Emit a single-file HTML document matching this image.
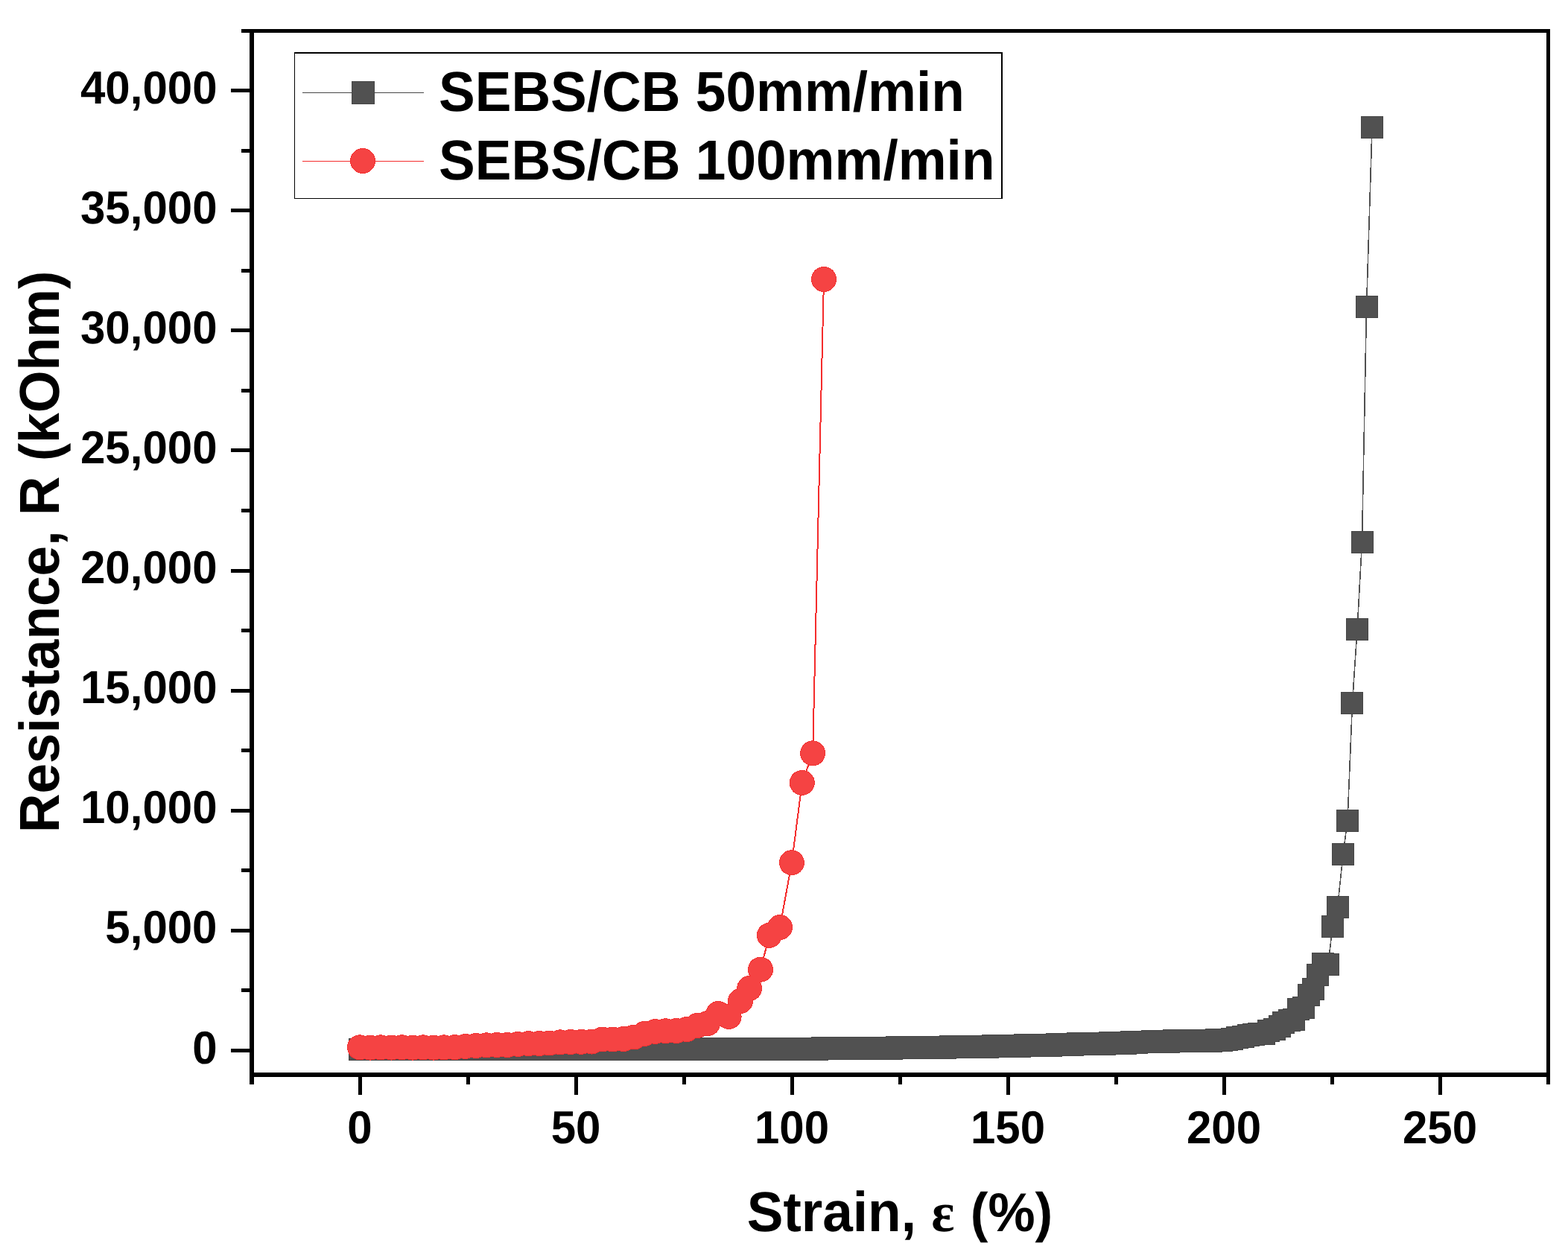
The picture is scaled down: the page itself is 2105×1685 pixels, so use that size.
<!DOCTYPE html>
<html><head><meta charset="utf-8"><title>Resistance vs Strain</title>
<style>html,body{margin:0;padding:0;background:#fff;}svg{display:block;}text{font-family:'Liberation Sans', Arial, sans-serif;font-weight:bold;fill:#000;text-rendering:geometricPrecision;}</style>
</head><body>
<svg width="2105" height="1685" viewBox="0 0 2105 1685">
<rect x="0" y="0" width="2105" height="1685" fill="#fff"/>
<polyline points="483.0,1409.0 490.1,1408.0 497.3,1409.0 504.4,1408.0 511.6,1409.0 518.7,1408.0 525.9,1409.0 533.0,1408.0 540.1,1409.0 547.3,1408.0 554.4,1409.0 561.6,1408.0 568.7,1409.0 575.8,1408.0 583.0,1409.0 590.1,1408.0 597.3,1409.0 604.4,1408.0 611.6,1409.0 618.7,1408.0 625.8,1409.0 633.0,1408.0 640.1,1409.0 647.3,1408.0 654.4,1409.0 661.6,1408.0 668.7,1409.0 675.8,1408.0 683.0,1409.0 690.1,1408.0 697.3,1409.0 704.4,1408.0 711.5,1409.0 718.7,1408.0 725.8,1409.0 733.0,1408.0 740.1,1409.0 747.3,1408.0 754.4,1409.0 761.5,1408.0 768.7,1409.0 775.8,1408.0 783.0,1409.0 790.1,1408.0 797.2,1409.0 804.4,1408.0 811.5,1409.0 818.7,1408.0 825.8,1409.0 833.0,1408.0 840.1,1409.0 847.2,1408.0 854.4,1409.0 861.5,1408.0 868.7,1409.0 875.8,1408.0 883.0,1409.0 890.1,1408.0 897.2,1409.0 904.4,1407.9 911.5,1409.0 918.7,1407.9 925.8,1409.0 932.9,1407.9 940.1,1409.0 947.2,1407.9 954.4,1409.0 961.5,1407.9 968.7,1409.0 975.8,1407.9 982.9,1408.9 990.1,1407.8 997.2,1408.9 1004.4,1407.8 1011.5,1408.9 1018.7,1407.8 1025.8,1408.9 1032.9,1407.8 1040.1,1408.9 1047.2,1407.8 1054.4,1408.9 1061.5,1407.7 1068.6,1408.8 1075.8,1407.6 1082.9,1408.7 1090.1,1407.5 1097.2,1408.6 1104.4,1407.4 1111.5,1408.4 1118.6,1407.3 1125.8,1408.3 1132.9,1407.1 1140.1,1408.1 1147.2,1407.0 1154.3,1408.0 1161.5,1406.8 1168.6,1407.8 1175.8,1406.7 1182.9,1407.7 1190.1,1406.5 1197.2,1407.5 1204.3,1406.4 1211.5,1407.4 1218.6,1406.2 1225.8,1407.3 1232.9,1406.1 1240.1,1407.1 1247.2,1406.0 1254.3,1407.0 1261.5,1405.7 1268.6,1406.7 1275.8,1405.4 1282.9,1406.4 1290.0,1405.1 1297.2,1406.1 1304.3,1404.9 1311.5,1405.8 1318.6,1404.6 1325.8,1405.5 1332.9,1404.3 1340.0,1405.2 1347.2,1404.0 1354.3,1405.0 1361.5,1403.7 1368.6,1404.7 1375.8,1403.4 1382.9,1404.4 1390.0,1403.1 1397.2,1404.1 1404.3,1402.8 1411.5,1403.7 1418.6,1402.4 1425.7,1403.2 1432.9,1401.9 1440.0,1402.8 1447.2,1401.5 1454.3,1402.4 1461.5,1401.1 1468.6,1402.0 1475.7,1400.6 1482.9,1401.5 1490.0,1400.2 1497.2,1401.1 1504.3,1399.8 1511.4,1400.6 1518.6,1399.2 1525.7,1400.0 1532.9,1398.6 1540.0,1399.4 1547.2,1398.1 1554.3,1399.0 1561.4,1397.7 1568.6,1398.7 1575.7,1397.4 1582.9,1398.3 1590.0,1397.0 1597.2,1397.9 1604.3,1396.7 1611.4,1397.8 1618.6,1396.6 1625.7,1397.6 1632.9,1396.5 1640.0,1396.8 1647.1,1396.0 1654.3,1394.7 1661.4,1393.1 1668.6,1391.8 1675.7,1390.1 1682.9,1388.6 1690.0,1388.4 1696.7,1388.4 1703.3,1384.4 1711.2,1381.9 1718.0,1378.1 1723.5,1373.5 1730.6,1370.4 1736.8,1369.4 1743.2,1355.4 1750.0,1353.0 1757.0,1336.0 1763.5,1328.0 1769.5,1308.7 1776.2,1294.3 1783.0,1294.6 1789.0,1244.0 1795.6,1218.3 1803.0,1147.4 1809.0,1102.0 1815.5,944.0 1822.0,845.5 1828.5,727.8 1834.5,412.0 1842.0,171.0" fill="none" stroke="#505050" stroke-width="1.6" shape-rendering="crispEdges"/>
<g fill="#464646" shape-rendering="crispEdges">
<rect x="468" y="1394" width="30" height="30"/>
<rect x="475" y="1393" width="30" height="30"/>
<rect x="482" y="1394" width="30" height="30"/>
<rect x="489" y="1393" width="30" height="30"/>
<rect x="497" y="1394" width="30" height="30"/>
<rect x="504" y="1393" width="30" height="30"/>
<rect x="511" y="1394" width="30" height="30"/>
<rect x="518" y="1393" width="30" height="30"/>
<rect x="525" y="1394" width="30" height="30"/>
<rect x="532" y="1393" width="30" height="30"/>
<rect x="539" y="1394" width="30" height="30"/>
<rect x="547" y="1393" width="30" height="30"/>
<rect x="554" y="1394" width="30" height="30"/>
<rect x="561" y="1393" width="30" height="30"/>
<rect x="568" y="1394" width="30" height="30"/>
<rect x="575" y="1393" width="30" height="30"/>
<rect x="582" y="1394" width="30" height="30"/>
<rect x="589" y="1393" width="30" height="30"/>
<rect x="597" y="1394" width="30" height="30"/>
<rect x="604" y="1393" width="30" height="30"/>
<rect x="611" y="1394" width="30" height="30"/>
<rect x="618" y="1393" width="30" height="30"/>
<rect x="625" y="1394" width="30" height="30"/>
<rect x="632" y="1393" width="30" height="30"/>
<rect x="639" y="1394" width="30" height="30"/>
<rect x="647" y="1393" width="30" height="30"/>
<rect x="654" y="1394" width="30" height="30"/>
<rect x="661" y="1393" width="30" height="30"/>
<rect x="668" y="1394" width="30" height="30"/>
<rect x="675" y="1393" width="30" height="30"/>
<rect x="682" y="1394" width="30" height="30"/>
<rect x="689" y="1393" width="30" height="30"/>
<rect x="697" y="1394" width="30" height="30"/>
<rect x="704" y="1393" width="30" height="30"/>
<rect x="711" y="1394" width="30" height="30"/>
<rect x="718" y="1393" width="30" height="30"/>
<rect x="725" y="1394" width="30" height="30"/>
<rect x="732" y="1393" width="30" height="30"/>
<rect x="739" y="1394" width="30" height="30"/>
<rect x="747" y="1393" width="30" height="30"/>
<rect x="754" y="1394" width="30" height="30"/>
<rect x="761" y="1393" width="30" height="30"/>
<rect x="768" y="1394" width="30" height="30"/>
<rect x="775" y="1393" width="30" height="30"/>
<rect x="782" y="1394" width="30" height="30"/>
<rect x="789" y="1393" width="30" height="30"/>
<rect x="797" y="1394" width="30" height="30"/>
<rect x="804" y="1393" width="30" height="30"/>
<rect x="811" y="1394" width="30" height="30"/>
<rect x="818" y="1393" width="30" height="30"/>
<rect x="825" y="1394" width="30" height="30"/>
<rect x="832" y="1393" width="30" height="30"/>
<rect x="839" y="1394" width="30" height="30"/>
<rect x="847" y="1393" width="30" height="30"/>
<rect x="854" y="1394" width="30" height="30"/>
<rect x="861" y="1393" width="30" height="30"/>
<rect x="868" y="1394" width="30" height="30"/>
<rect x="875" y="1393" width="30" height="30"/>
<rect x="882" y="1394" width="30" height="30"/>
<rect x="889" y="1393" width="30" height="30"/>
<rect x="897" y="1394" width="30" height="30"/>
<rect x="904" y="1393" width="30" height="30"/>
<rect x="911" y="1394" width="30" height="30"/>
<rect x="918" y="1393" width="30" height="30"/>
<rect x="925" y="1394" width="30" height="30"/>
<rect x="932" y="1393" width="30" height="30"/>
<rect x="939" y="1394" width="30" height="30"/>
<rect x="947" y="1393" width="30" height="30"/>
<rect x="954" y="1394" width="30" height="30"/>
<rect x="961" y="1393" width="30" height="30"/>
<rect x="968" y="1394" width="30" height="30"/>
<rect x="975" y="1393" width="30" height="30"/>
<rect x="982" y="1394" width="30" height="30"/>
<rect x="989" y="1393" width="30" height="30"/>
<rect x="997" y="1394" width="30" height="30"/>
<rect x="1004" y="1393" width="30" height="30"/>
<rect x="1011" y="1394" width="30" height="30"/>
<rect x="1018" y="1393" width="30" height="30"/>
<rect x="1025" y="1394" width="30" height="30"/>
<rect x="1032" y="1393" width="30" height="30"/>
<rect x="1039" y="1394" width="30" height="30"/>
<rect x="1047" y="1393" width="30" height="30"/>
<rect x="1054" y="1394" width="30" height="30"/>
<rect x="1061" y="1393" width="30" height="30"/>
<rect x="1068" y="1394" width="30" height="30"/>
<rect x="1075" y="1393" width="30" height="30"/>
<rect x="1082" y="1394" width="30" height="30"/>
<rect x="1089" y="1392" width="30" height="30"/>
<rect x="1096" y="1393" width="30" height="30"/>
<rect x="1104" y="1392" width="30" height="30"/>
<rect x="1111" y="1393" width="30" height="30"/>
<rect x="1118" y="1392" width="30" height="30"/>
<rect x="1125" y="1393" width="30" height="30"/>
<rect x="1132" y="1392" width="30" height="30"/>
<rect x="1139" y="1393" width="30" height="30"/>
<rect x="1146" y="1392" width="30" height="30"/>
<rect x="1154" y="1393" width="30" height="30"/>
<rect x="1161" y="1392" width="30" height="30"/>
<rect x="1168" y="1393" width="30" height="30"/>
<rect x="1175" y="1392" width="30" height="30"/>
<rect x="1182" y="1393" width="30" height="30"/>
<rect x="1189" y="1391" width="30" height="30"/>
<rect x="1196" y="1392" width="30" height="30"/>
<rect x="1204" y="1391" width="30" height="30"/>
<rect x="1211" y="1392" width="30" height="30"/>
<rect x="1218" y="1391" width="30" height="30"/>
<rect x="1225" y="1392" width="30" height="30"/>
<rect x="1232" y="1391" width="30" height="30"/>
<rect x="1239" y="1392" width="30" height="30"/>
<rect x="1246" y="1391" width="30" height="30"/>
<rect x="1254" y="1392" width="30" height="30"/>
<rect x="1261" y="1390" width="30" height="30"/>
<rect x="1268" y="1391" width="30" height="30"/>
<rect x="1275" y="1390" width="30" height="30"/>
<rect x="1282" y="1391" width="30" height="30"/>
<rect x="1289" y="1390" width="30" height="30"/>
<rect x="1296" y="1391" width="30" height="30"/>
<rect x="1304" y="1390" width="30" height="30"/>
<rect x="1311" y="1391" width="30" height="30"/>
<rect x="1318" y="1389" width="30" height="30"/>
<rect x="1325" y="1390" width="30" height="30"/>
<rect x="1332" y="1389" width="30" height="30"/>
<rect x="1339" y="1390" width="30" height="30"/>
<rect x="1346" y="1389" width="30" height="30"/>
<rect x="1354" y="1390" width="30" height="30"/>
<rect x="1361" y="1388" width="30" height="30"/>
<rect x="1368" y="1389" width="30" height="30"/>
<rect x="1375" y="1388" width="30" height="30"/>
<rect x="1382" y="1389" width="30" height="30"/>
<rect x="1389" y="1388" width="30" height="30"/>
<rect x="1396" y="1389" width="30" height="30"/>
<rect x="1404" y="1387" width="30" height="30"/>
<rect x="1411" y="1388" width="30" height="30"/>
<rect x="1418" y="1387" width="30" height="30"/>
<rect x="1425" y="1388" width="30" height="30"/>
<rect x="1432" y="1386" width="30" height="30"/>
<rect x="1439" y="1387" width="30" height="30"/>
<rect x="1446" y="1386" width="30" height="30"/>
<rect x="1454" y="1387" width="30" height="30"/>
<rect x="1461" y="1386" width="30" height="30"/>
<rect x="1468" y="1387" width="30" height="30"/>
<rect x="1475" y="1385" width="30" height="30"/>
<rect x="1482" y="1386" width="30" height="30"/>
<rect x="1489" y="1385" width="30" height="30"/>
<rect x="1496" y="1386" width="30" height="30"/>
<rect x="1504" y="1384" width="30" height="30"/>
<rect x="1511" y="1385" width="30" height="30"/>
<rect x="1518" y="1384" width="30" height="30"/>
<rect x="1525" y="1384" width="30" height="30"/>
<rect x="1532" y="1383" width="30" height="30"/>
<rect x="1539" y="1384" width="30" height="30"/>
<rect x="1546" y="1383" width="30" height="30"/>
<rect x="1554" y="1384" width="30" height="30"/>
<rect x="1561" y="1382" width="30" height="30"/>
<rect x="1568" y="1383" width="30" height="30"/>
<rect x="1575" y="1382" width="30" height="30"/>
<rect x="1582" y="1383" width="30" height="30"/>
<rect x="1589" y="1382" width="30" height="30"/>
<rect x="1596" y="1383" width="30" height="30"/>
<rect x="1604" y="1382" width="30" height="30"/>
<rect x="1611" y="1383" width="30" height="30"/>
<rect x="1618" y="1381" width="30" height="30"/>
<rect x="1625" y="1382" width="30" height="30"/>
<rect x="1632" y="1381" width="30" height="30"/>
<rect x="1639" y="1380" width="30" height="30"/>
<rect x="1646" y="1378" width="30" height="30"/>
<rect x="1654" y="1377" width="30" height="30"/>
<rect x="1661" y="1375" width="30" height="30"/>
<rect x="1668" y="1374" width="30" height="30"/>
<rect x="1675" y="1373" width="30" height="30"/>
<rect x="1682" y="1373" width="30" height="30"/>
<rect x="1688" y="1369" width="30" height="30"/>
<rect x="1696" y="1367" width="30" height="30"/>
<rect x="1703" y="1363" width="30" height="30"/>
<rect x="1708" y="1358" width="30" height="30"/>
<rect x="1716" y="1355" width="30" height="30"/>
<rect x="1722" y="1354" width="30" height="30"/>
<rect x="1728" y="1340" width="30" height="30"/>
<rect x="1735" y="1338" width="30" height="30"/>
<rect x="1742" y="1321" width="30" height="30"/>
<rect x="1748" y="1313" width="30" height="30"/>
<rect x="1754" y="1294" width="30" height="30"/>
<rect x="1761" y="1279" width="30" height="30"/>
<rect x="1768" y="1280" width="30" height="30"/>
<rect x="1774" y="1229" width="30" height="30"/>
<rect x="1781" y="1203" width="30" height="30"/>
<rect x="1788" y="1132" width="30" height="30"/>
<rect x="1794" y="1087" width="30" height="30"/>
<rect x="1800" y="929" width="30" height="30"/>
<rect x="1807" y="830" width="30" height="30"/>
<rect x="1814" y="713" width="30" height="30"/>
<rect x="1820" y="397" width="30" height="30"/>
<rect x="1827" y="156" width="30" height="30"/>
</g>
<g fill="#515151" shape-rendering="crispEdges">
<rect x="469" y="1395" width="28" height="28"/>
<rect x="476" y="1394" width="28" height="28"/>
<rect x="483" y="1395" width="28" height="28"/>
<rect x="490" y="1394" width="28" height="28"/>
<rect x="498" y="1395" width="28" height="28"/>
<rect x="505" y="1394" width="28" height="28"/>
<rect x="512" y="1395" width="28" height="28"/>
<rect x="519" y="1394" width="28" height="28"/>
<rect x="526" y="1395" width="28" height="28"/>
<rect x="533" y="1394" width="28" height="28"/>
<rect x="540" y="1395" width="28" height="28"/>
<rect x="548" y="1394" width="28" height="28"/>
<rect x="555" y="1395" width="28" height="28"/>
<rect x="562" y="1394" width="28" height="28"/>
<rect x="569" y="1395" width="28" height="28"/>
<rect x="576" y="1394" width="28" height="28"/>
<rect x="583" y="1395" width="28" height="28"/>
<rect x="590" y="1394" width="28" height="28"/>
<rect x="598" y="1395" width="28" height="28"/>
<rect x="605" y="1394" width="28" height="28"/>
<rect x="612" y="1395" width="28" height="28"/>
<rect x="619" y="1394" width="28" height="28"/>
<rect x="626" y="1395" width="28" height="28"/>
<rect x="633" y="1394" width="28" height="28"/>
<rect x="640" y="1395" width="28" height="28"/>
<rect x="648" y="1394" width="28" height="28"/>
<rect x="655" y="1395" width="28" height="28"/>
<rect x="662" y="1394" width="28" height="28"/>
<rect x="669" y="1395" width="28" height="28"/>
<rect x="676" y="1394" width="28" height="28"/>
<rect x="683" y="1395" width="28" height="28"/>
<rect x="690" y="1394" width="28" height="28"/>
<rect x="698" y="1395" width="28" height="28"/>
<rect x="705" y="1394" width="28" height="28"/>
<rect x="712" y="1395" width="28" height="28"/>
<rect x="719" y="1394" width="28" height="28"/>
<rect x="726" y="1395" width="28" height="28"/>
<rect x="733" y="1394" width="28" height="28"/>
<rect x="740" y="1395" width="28" height="28"/>
<rect x="748" y="1394" width="28" height="28"/>
<rect x="755" y="1395" width="28" height="28"/>
<rect x="762" y="1394" width="28" height="28"/>
<rect x="769" y="1395" width="28" height="28"/>
<rect x="776" y="1394" width="28" height="28"/>
<rect x="783" y="1395" width="28" height="28"/>
<rect x="790" y="1394" width="28" height="28"/>
<rect x="798" y="1395" width="28" height="28"/>
<rect x="805" y="1394" width="28" height="28"/>
<rect x="812" y="1395" width="28" height="28"/>
<rect x="819" y="1394" width="28" height="28"/>
<rect x="826" y="1395" width="28" height="28"/>
<rect x="833" y="1394" width="28" height="28"/>
<rect x="840" y="1395" width="28" height="28"/>
<rect x="848" y="1394" width="28" height="28"/>
<rect x="855" y="1395" width="28" height="28"/>
<rect x="862" y="1394" width="28" height="28"/>
<rect x="869" y="1395" width="28" height="28"/>
<rect x="876" y="1394" width="28" height="28"/>
<rect x="883" y="1395" width="28" height="28"/>
<rect x="890" y="1394" width="28" height="28"/>
<rect x="898" y="1395" width="28" height="28"/>
<rect x="905" y="1394" width="28" height="28"/>
<rect x="912" y="1395" width="28" height="28"/>
<rect x="919" y="1394" width="28" height="28"/>
<rect x="926" y="1395" width="28" height="28"/>
<rect x="933" y="1394" width="28" height="28"/>
<rect x="940" y="1395" width="28" height="28"/>
<rect x="948" y="1394" width="28" height="28"/>
<rect x="955" y="1395" width="28" height="28"/>
<rect x="962" y="1394" width="28" height="28"/>
<rect x="969" y="1395" width="28" height="28"/>
<rect x="976" y="1394" width="28" height="28"/>
<rect x="983" y="1395" width="28" height="28"/>
<rect x="990" y="1394" width="28" height="28"/>
<rect x="998" y="1395" width="28" height="28"/>
<rect x="1005" y="1394" width="28" height="28"/>
<rect x="1012" y="1395" width="28" height="28"/>
<rect x="1019" y="1394" width="28" height="28"/>
<rect x="1026" y="1395" width="28" height="28"/>
<rect x="1033" y="1394" width="28" height="28"/>
<rect x="1040" y="1395" width="28" height="28"/>
<rect x="1048" y="1394" width="28" height="28"/>
<rect x="1055" y="1395" width="28" height="28"/>
<rect x="1062" y="1394" width="28" height="28"/>
<rect x="1069" y="1395" width="28" height="28"/>
<rect x="1076" y="1394" width="28" height="28"/>
<rect x="1083" y="1395" width="28" height="28"/>
<rect x="1090" y="1393" width="28" height="28"/>
<rect x="1097" y="1394" width="28" height="28"/>
<rect x="1105" y="1393" width="28" height="28"/>
<rect x="1112" y="1394" width="28" height="28"/>
<rect x="1119" y="1393" width="28" height="28"/>
<rect x="1126" y="1394" width="28" height="28"/>
<rect x="1133" y="1393" width="28" height="28"/>
<rect x="1140" y="1394" width="28" height="28"/>
<rect x="1147" y="1393" width="28" height="28"/>
<rect x="1155" y="1394" width="28" height="28"/>
<rect x="1162" y="1393" width="28" height="28"/>
<rect x="1169" y="1394" width="28" height="28"/>
<rect x="1176" y="1393" width="28" height="28"/>
<rect x="1183" y="1394" width="28" height="28"/>
<rect x="1190" y="1392" width="28" height="28"/>
<rect x="1197" y="1393" width="28" height="28"/>
<rect x="1205" y="1392" width="28" height="28"/>
<rect x="1212" y="1393" width="28" height="28"/>
<rect x="1219" y="1392" width="28" height="28"/>
<rect x="1226" y="1393" width="28" height="28"/>
<rect x="1233" y="1392" width="28" height="28"/>
<rect x="1240" y="1393" width="28" height="28"/>
<rect x="1247" y="1392" width="28" height="28"/>
<rect x="1255" y="1393" width="28" height="28"/>
<rect x="1262" y="1391" width="28" height="28"/>
<rect x="1269" y="1392" width="28" height="28"/>
<rect x="1276" y="1391" width="28" height="28"/>
<rect x="1283" y="1392" width="28" height="28"/>
<rect x="1290" y="1391" width="28" height="28"/>
<rect x="1297" y="1392" width="28" height="28"/>
<rect x="1305" y="1391" width="28" height="28"/>
<rect x="1312" y="1392" width="28" height="28"/>
<rect x="1319" y="1390" width="28" height="28"/>
<rect x="1326" y="1391" width="28" height="28"/>
<rect x="1333" y="1390" width="28" height="28"/>
<rect x="1340" y="1391" width="28" height="28"/>
<rect x="1347" y="1390" width="28" height="28"/>
<rect x="1355" y="1391" width="28" height="28"/>
<rect x="1362" y="1389" width="28" height="28"/>
<rect x="1369" y="1390" width="28" height="28"/>
<rect x="1376" y="1389" width="28" height="28"/>
<rect x="1383" y="1390" width="28" height="28"/>
<rect x="1390" y="1389" width="28" height="28"/>
<rect x="1397" y="1390" width="28" height="28"/>
<rect x="1405" y="1388" width="28" height="28"/>
<rect x="1412" y="1389" width="28" height="28"/>
<rect x="1419" y="1388" width="28" height="28"/>
<rect x="1426" y="1389" width="28" height="28"/>
<rect x="1433" y="1387" width="28" height="28"/>
<rect x="1440" y="1388" width="28" height="28"/>
<rect x="1447" y="1387" width="28" height="28"/>
<rect x="1455" y="1388" width="28" height="28"/>
<rect x="1462" y="1387" width="28" height="28"/>
<rect x="1469" y="1388" width="28" height="28"/>
<rect x="1476" y="1386" width="28" height="28"/>
<rect x="1483" y="1387" width="28" height="28"/>
<rect x="1490" y="1386" width="28" height="28"/>
<rect x="1497" y="1387" width="28" height="28"/>
<rect x="1505" y="1385" width="28" height="28"/>
<rect x="1512" y="1386" width="28" height="28"/>
<rect x="1519" y="1385" width="28" height="28"/>
<rect x="1526" y="1385" width="28" height="28"/>
<rect x="1533" y="1384" width="28" height="28"/>
<rect x="1540" y="1385" width="28" height="28"/>
<rect x="1547" y="1384" width="28" height="28"/>
<rect x="1555" y="1385" width="28" height="28"/>
<rect x="1562" y="1383" width="28" height="28"/>
<rect x="1569" y="1384" width="28" height="28"/>
<rect x="1576" y="1383" width="28" height="28"/>
<rect x="1583" y="1384" width="28" height="28"/>
<rect x="1590" y="1383" width="28" height="28"/>
<rect x="1597" y="1384" width="28" height="28"/>
<rect x="1605" y="1383" width="28" height="28"/>
<rect x="1612" y="1384" width="28" height="28"/>
<rect x="1619" y="1382" width="28" height="28"/>
<rect x="1626" y="1383" width="28" height="28"/>
<rect x="1633" y="1382" width="28" height="28"/>
<rect x="1640" y="1381" width="28" height="28"/>
<rect x="1647" y="1379" width="28" height="28"/>
<rect x="1655" y="1378" width="28" height="28"/>
<rect x="1662" y="1376" width="28" height="28"/>
<rect x="1669" y="1375" width="28" height="28"/>
<rect x="1676" y="1374" width="28" height="28"/>
<rect x="1683" y="1374" width="28" height="28"/>
<rect x="1689" y="1370" width="28" height="28"/>
<rect x="1697" y="1368" width="28" height="28"/>
<rect x="1704" y="1364" width="28" height="28"/>
<rect x="1709" y="1359" width="28" height="28"/>
<rect x="1717" y="1356" width="28" height="28"/>
<rect x="1723" y="1355" width="28" height="28"/>
<rect x="1729" y="1341" width="28" height="28"/>
<rect x="1736" y="1339" width="28" height="28"/>
<rect x="1743" y="1322" width="28" height="28"/>
<rect x="1749" y="1314" width="28" height="28"/>
<rect x="1755" y="1295" width="28" height="28"/>
<rect x="1762" y="1280" width="28" height="28"/>
<rect x="1769" y="1281" width="28" height="28"/>
<rect x="1775" y="1230" width="28" height="28"/>
<rect x="1782" y="1204" width="28" height="28"/>
<rect x="1789" y="1133" width="28" height="28"/>
<rect x="1795" y="1088" width="28" height="28"/>
<rect x="1801" y="930" width="28" height="28"/>
<rect x="1808" y="831" width="28" height="28"/>
<rect x="1815" y="714" width="28" height="28"/>
<rect x="1821" y="398" width="28" height="28"/>
<rect x="1828" y="157" width="28" height="28"/>
</g>
<polyline points="483.0,1406.3 497.2,1406.6 511.3,1406.3 525.5,1406.6 539.6,1406.3 553.8,1406.6 568.0,1406.3 582.1,1406.6 596.3,1406.3 610.4,1406.2 624.6,1405.0 638.8,1404.0 652.9,1403.3 667.1,1403.0 681.2,1403.0 695.4,1402.0 709.5,1401.2 723.7,1401.0 737.9,1400.5 752.0,1399.3 766.2,1399.0 780.3,1398.8 794.5,1398.5 808.7,1395.5 822.8,1395.5 837.0,1395.0 851.1,1392.5 865.3,1388.0 879.5,1385.0 893.6,1384.3 907.8,1384.0 921.9,1382.0 936.1,1377.0 950.2,1374.0 964.4,1361.0 978.6,1365.0 994.0,1344.0 1006.2,1327.0 1021.0,1301.7 1032.9,1255.8 1047.0,1245.0 1062.9,1158.2 1076.8,1050.9 1091.1,1011.3 1106.0,374.9" fill="none" stroke="#f42c2c" stroke-width="2" shape-rendering="crispEdges"/>
<g fill="#f23232" shape-rendering="crispEdges">
<circle cx="483.0" cy="1406.3" r="17"/>
<circle cx="497.2" cy="1406.6" r="17"/>
<circle cx="511.3" cy="1406.3" r="17"/>
<circle cx="525.5" cy="1406.6" r="17"/>
<circle cx="539.6" cy="1406.3" r="17"/>
<circle cx="553.8" cy="1406.6" r="17"/>
<circle cx="568.0" cy="1406.3" r="17"/>
<circle cx="582.1" cy="1406.6" r="17"/>
<circle cx="596.3" cy="1406.3" r="17"/>
<circle cx="610.4" cy="1406.2" r="17"/>
<circle cx="624.6" cy="1405.0" r="17"/>
<circle cx="638.8" cy="1404.0" r="17"/>
<circle cx="652.9" cy="1403.3" r="17"/>
<circle cx="667.1" cy="1403.0" r="17"/>
<circle cx="681.2" cy="1403.0" r="17"/>
<circle cx="695.4" cy="1402.0" r="17"/>
<circle cx="709.5" cy="1401.2" r="17"/>
<circle cx="723.7" cy="1401.0" r="17"/>
<circle cx="737.9" cy="1400.5" r="17"/>
<circle cx="752.0" cy="1399.3" r="17"/>
<circle cx="766.2" cy="1399.0" r="17"/>
<circle cx="780.3" cy="1398.8" r="17"/>
<circle cx="794.5" cy="1398.5" r="17"/>
<circle cx="808.7" cy="1395.5" r="17"/>
<circle cx="822.8" cy="1395.5" r="17"/>
<circle cx="837.0" cy="1395.0" r="17"/>
<circle cx="851.1" cy="1392.5" r="17"/>
<circle cx="865.3" cy="1388.0" r="17"/>
<circle cx="879.5" cy="1385.0" r="17"/>
<circle cx="893.6" cy="1384.3" r="17"/>
<circle cx="907.8" cy="1384.0" r="17"/>
<circle cx="921.9" cy="1382.0" r="17"/>
<circle cx="936.1" cy="1377.0" r="17"/>
<circle cx="950.2" cy="1374.0" r="17"/>
<circle cx="964.4" cy="1361.0" r="17"/>
<circle cx="978.6" cy="1365.0" r="17"/>
<circle cx="994.0" cy="1344.0" r="17"/>
<circle cx="1006.2" cy="1327.0" r="17"/>
<circle cx="1021.0" cy="1301.7" r="17"/>
<circle cx="1032.9" cy="1255.8" r="17"/>
<circle cx="1047.0" cy="1245.0" r="17"/>
<circle cx="1062.9" cy="1158.2" r="17"/>
<circle cx="1076.8" cy="1050.9" r="17"/>
<circle cx="1091.1" cy="1011.3" r="17"/>
<circle cx="1106.0" cy="374.9" r="17"/>
</g>
<g fill="#f54343" shape-rendering="crispEdges">
<circle cx="483.0" cy="1406.3" r="16"/>
<circle cx="497.2" cy="1406.6" r="16"/>
<circle cx="511.3" cy="1406.3" r="16"/>
<circle cx="525.5" cy="1406.6" r="16"/>
<circle cx="539.6" cy="1406.3" r="16"/>
<circle cx="553.8" cy="1406.6" r="16"/>
<circle cx="568.0" cy="1406.3" r="16"/>
<circle cx="582.1" cy="1406.6" r="16"/>
<circle cx="596.3" cy="1406.3" r="16"/>
<circle cx="610.4" cy="1406.2" r="16"/>
<circle cx="624.6" cy="1405.0" r="16"/>
<circle cx="638.8" cy="1404.0" r="16"/>
<circle cx="652.9" cy="1403.3" r="16"/>
<circle cx="667.1" cy="1403.0" r="16"/>
<circle cx="681.2" cy="1403.0" r="16"/>
<circle cx="695.4" cy="1402.0" r="16"/>
<circle cx="709.5" cy="1401.2" r="16"/>
<circle cx="723.7" cy="1401.0" r="16"/>
<circle cx="737.9" cy="1400.5" r="16"/>
<circle cx="752.0" cy="1399.3" r="16"/>
<circle cx="766.2" cy="1399.0" r="16"/>
<circle cx="780.3" cy="1398.8" r="16"/>
<circle cx="794.5" cy="1398.5" r="16"/>
<circle cx="808.7" cy="1395.5" r="16"/>
<circle cx="822.8" cy="1395.5" r="16"/>
<circle cx="837.0" cy="1395.0" r="16"/>
<circle cx="851.1" cy="1392.5" r="16"/>
<circle cx="865.3" cy="1388.0" r="16"/>
<circle cx="879.5" cy="1385.0" r="16"/>
<circle cx="893.6" cy="1384.3" r="16"/>
<circle cx="907.8" cy="1384.0" r="16"/>
<circle cx="921.9" cy="1382.0" r="16"/>
<circle cx="936.1" cy="1377.0" r="16"/>
<circle cx="950.2" cy="1374.0" r="16"/>
<circle cx="964.4" cy="1361.0" r="16"/>
<circle cx="978.6" cy="1365.0" r="16"/>
<circle cx="994.0" cy="1344.0" r="16"/>
<circle cx="1006.2" cy="1327.0" r="16"/>
<circle cx="1021.0" cy="1301.7" r="16"/>
<circle cx="1032.9" cy="1255.8" r="16"/>
<circle cx="1047.0" cy="1245.0" r="16"/>
<circle cx="1062.9" cy="1158.2" r="16"/>
<circle cx="1076.8" cy="1050.9" r="16"/>
<circle cx="1091.1" cy="1011.3" r="16"/>
<circle cx="1106.0" cy="374.9" r="16"/>
</g>
<g fill="#000" shape-rendering="crispEdges">
<rect x="335" y="39" width="6" height="1417"/>
<rect x="324" y="39" width="1757" height="5"/>
<rect x="2076" y="39" width="5" height="1417"/>
<rect x="335" y="1440" width="1746" height="6"/>
<rect x="310" y="1408" width="26" height="5"/>
<rect x="324" y="1327" width="12" height="5"/>
<rect x="310" y="1247" width="26" height="5"/>
<rect x="324" y="1166" width="12" height="5"/>
<rect x="310" y="1086" width="26" height="5"/>
<rect x="324" y="1005" width="12" height="5"/>
<rect x="310" y="925" width="26" height="5"/>
<rect x="324" y="844" width="12" height="5"/>
<rect x="310" y="764" width="26" height="5"/>
<rect x="324" y="683" width="12" height="5"/>
<rect x="310" y="602" width="26" height="5"/>
<rect x="324" y="522" width="12" height="5"/>
<rect x="310" y="441" width="26" height="5"/>
<rect x="324" y="361" width="12" height="5"/>
<rect x="310" y="280" width="26" height="5"/>
<rect x="324" y="200" width="12" height="5"/>
<rect x="310" y="119" width="26" height="5"/>
<rect x="336" y="1446" width="5" height="10"/>
<rect x="481" y="1446" width="5" height="24"/>
<rect x="626" y="1446" width="5" height="10"/>
<rect x="771" y="1446" width="5" height="24"/>
<rect x="916" y="1446" width="5" height="10"/>
<rect x="1061" y="1446" width="5" height="24"/>
<rect x="1206" y="1446" width="5" height="10"/>
<rect x="1351" y="1446" width="5" height="24"/>
<rect x="1496" y="1446" width="5" height="10"/>
<rect x="1641" y="1446" width="5" height="24"/>
<rect x="1786" y="1446" width="5" height="10"/>
<rect x="1931" y="1446" width="5" height="24"/>
<rect x="2076" y="1446" width="5" height="10"/>
</g>
<text transform="translate(291.5,1427.5) scale(1,1.035)" font-size="60" text-anchor="end">0</text>
<text transform="translate(291.5,1266.4) scale(1,1.035)" font-size="60" text-anchor="end">5,000</text>
<text transform="translate(291.5,1105.2) scale(1,1.035)" font-size="60" text-anchor="end">10,000</text>
<text transform="translate(291.5,944.1) scale(1,1.035)" font-size="60" text-anchor="end">15,000</text>
<text transform="translate(291.5,783.0) scale(1,1.035)" font-size="60" text-anchor="end">20,000</text>
<text transform="translate(291.5,621.9) scale(1,1.035)" font-size="60" text-anchor="end">25,000</text>
<text transform="translate(291.5,460.8) scale(1,1.035)" font-size="60" text-anchor="end">30,000</text>
<text transform="translate(291.5,299.6) scale(1,1.035)" font-size="60" text-anchor="end">35,000</text>
<text transform="translate(291.5,138.5) scale(1,1.035)" font-size="60" text-anchor="end">40,000</text>
<text transform="translate(483.0,1535) scale(1,1.035)" font-size="60" text-anchor="middle">0</text>
<text transform="translate(773.0,1535) scale(1,1.035)" font-size="60" text-anchor="middle">50</text>
<text transform="translate(1063.0,1535) scale(1,1.035)" font-size="60" text-anchor="middle">100</text>
<text transform="translate(1353.0,1535) scale(1,1.035)" font-size="60" text-anchor="middle">150</text>
<text transform="translate(1643.0,1535) scale(1,1.035)" font-size="60" text-anchor="middle">200</text>
<text transform="translate(1933.0,1535) scale(1,1.035)" font-size="60" text-anchor="middle">250</text>
<text transform="translate(1002.8,1653) scale(1,1.035)" font-size="73">Strain, <tspan font-family="'Liberation Serif', serif" font-weight="bold">ε</tspan> <tspan dx="1" style="font-size:71px">(%)</tspan></text>
<text transform="translate(79,741) rotate(-90) scale(1,1.035)" font-size="73" text-anchor="middle">Resistance, R (kOhm)</text>
<g fill="#000" shape-rendering="crispEdges">
<rect x="395" y="70" width="951" height="2"/>
<rect x="395" y="266" width="951" height="1"/>
<rect x="395" y="70" width="1" height="197"/>
<rect x="1344" y="70" width="2" height="197"/>
</g>
<rect x="406" y="124" width="163" height="1" fill="#464646" shape-rendering="crispEdges"/>
<rect x="472.5" y="109.5" width="30" height="30" fill="#515151" stroke="#464646" stroke-width="1"/>
<rect x="406" y="216" width="163" height="1" fill="#f42c2c" shape-rendering="crispEdges"/>
<circle cx="487" cy="216" r="16.5" fill="#f54343" stroke="#f42c2c" stroke-width="1" shape-rendering="crispEdges"/>
<text transform="translate(589,149.2) scale(1,1.035)" font-size="73">SEBS/CB 50mm/min</text>
<text transform="translate(589,241.4) scale(1,1.035)" font-size="73">SEBS/CB 100mm/min</text>
</svg>
</body></html>
